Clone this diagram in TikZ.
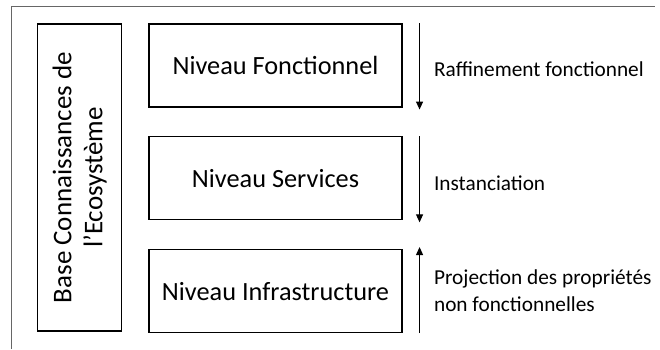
\documentclass[tikz,border=0pt]{standalone}
\usepackage{fontspec}
\setmainfont{Carlito}
\usetikzlibrary{positioning}
\usetikzlibrary{arrows.meta}

\begin{document}
\begin{tikzpicture}[x=1pt,y=1pt,
level/.style={draw,line width=1.1pt,minimum width=253pt,minimum height=83pt,font=\fontsize{26.3}{31}\selectfont},
base/.style={draw,line width=1.1pt,rotate=90,minimum width=307pt,minimum height=84pt,align=center,font=\fontsize{27}{31}\selectfont},
lbl/.style={anchor=west,align=left,font=\fontsize{21.3}{27}\selectfont},
flow/.style={line width=1.1pt,-{Triangle[length=8pt,width=7pt]}},
frame/.style={draw=black!60,line width=0.9pt}]
%\useasboundingbox[draw=red] (0,0) rectangle (660,349);
\useasboundingbox (0,0) rectangle (660,349);

\coordinate (fb) at (11,0);
\coordinate (ft) at (11,343);
\coordinate (fr) at (655,343);
\draw[frame] (fb) -- (ft) -- (fr);

\node[base] (Base) at (79.7,171.5) {Base Connaissances de\\ l’Ecosystème};

\node[level] (Fonc) at (275.5,283.5) {Niveau Fonctionnel};
\node[level,below=28.7pt of Fonc] (Serv) {Niveau Services};
\node[level,below=28.7pt of Serv] (Infra) {Niveau Infrastructure};

% arrows beside the levels
\draw[flow] ([xshift=17pt]Fonc.north east) -- ([xshift=17pt,yshift=-2pt]Fonc.south east);
\draw[flow] ([xshift=17pt]Serv.north east) -- ([xshift=17pt,yshift=-2pt]Serv.south east);
\draw[flow] ([xshift=17pt]Infra.south east) -- ([xshift=17pt,yshift=2pt]Infra.north east);

\node[lbl] (RafL) at ([xshift=28pt,yshift=-4pt]Fonc.east) {Raffinement fonctionnel};
\node[lbl] (InsL) at ([xshift=28pt,yshift=-5pt]Serv.east) {Instanciation};
\node[lbl] (ProL) at ([xshift=28pt,yshift=0pt]Infra.east) {Projection des propriétés\\ non fonctionnelles};
\end{tikzpicture}
\end{document}
